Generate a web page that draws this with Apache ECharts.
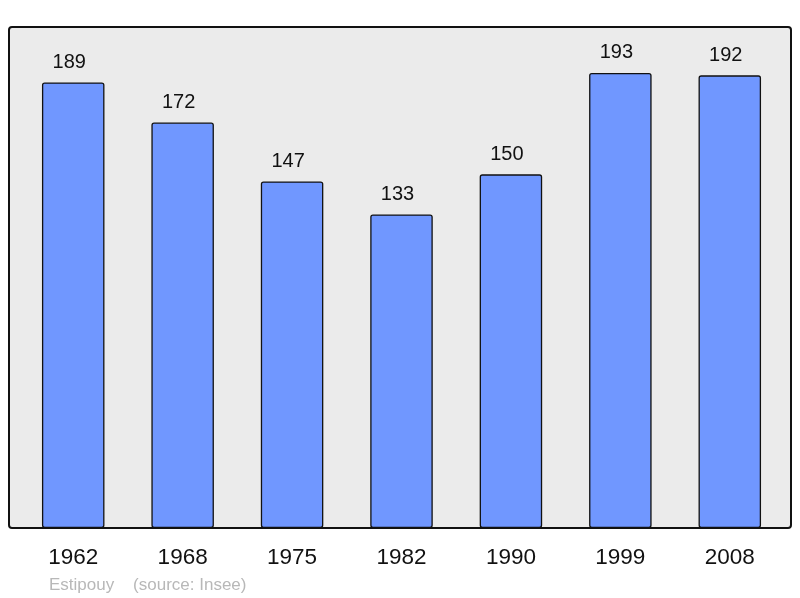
<!DOCTYPE html>
<html><head><meta charset="utf-8">
<script src="https://cdn.jsdelivr.net/npm/echarts@6/dist/echarts.min.js"></script>
<style>html,body{margin:0;padding:0;background:#fff}#c{width:800px;height:598px}</style>
</head><body><div id="c"></div>
<script>
const years = ['1962','1968','1975','1982','1990','1999','2008'];
const population = [189,172,147,133,150,193,192];
const footerText = 'Estipouy    (source: Insee)';

const chart = echarts.init(document.getElementById('c'), null, {renderer:'canvas'});
chart.setOption({
  animation:false,
  backgroundColor:'#ffffff',
  title:{text:footerText,left:44,top:572,textStyle:{fontFamily:'Liberation Sans, Arial, sans-serif',fontSize:17,fontWeight:'normal',color:'#b8b8b8'}},
  graphic:[{type:'rect',z:-10,shape:{x:9,y:27,width:782,height:501,r:3},style:{fill:'#ebebeb',stroke:'#111',lineWidth:2}}],
  grid:{left:18.5,right:15.5,top:27,bottom:70},
  xAxis:{type:'category',data:years,boundaryGap:true,
    axisLine:{show:false},axisTick:{show:false},
    axisLabel:{margin:18,fontSize:22.5,color:'#111',fontFamily:'Liberation Sans, Arial, sans-serif'}},
  yAxis:{type:'value',min:0,max:212.5,show:false,splitLine:{show:false}},
  series:[{type:'bar',data:population,barWidth:62.5,
    itemStyle:{color:'#7097ff',borderColor:'#111',borderWidth:1.3,borderRadius:2},
    label:{show:true,position:'top',distance:10,offset:[-4,0],fontSize:20,color:'#111',fontFamily:'Liberation Sans, Arial, sans-serif'}}]
});
</script></body></html>
